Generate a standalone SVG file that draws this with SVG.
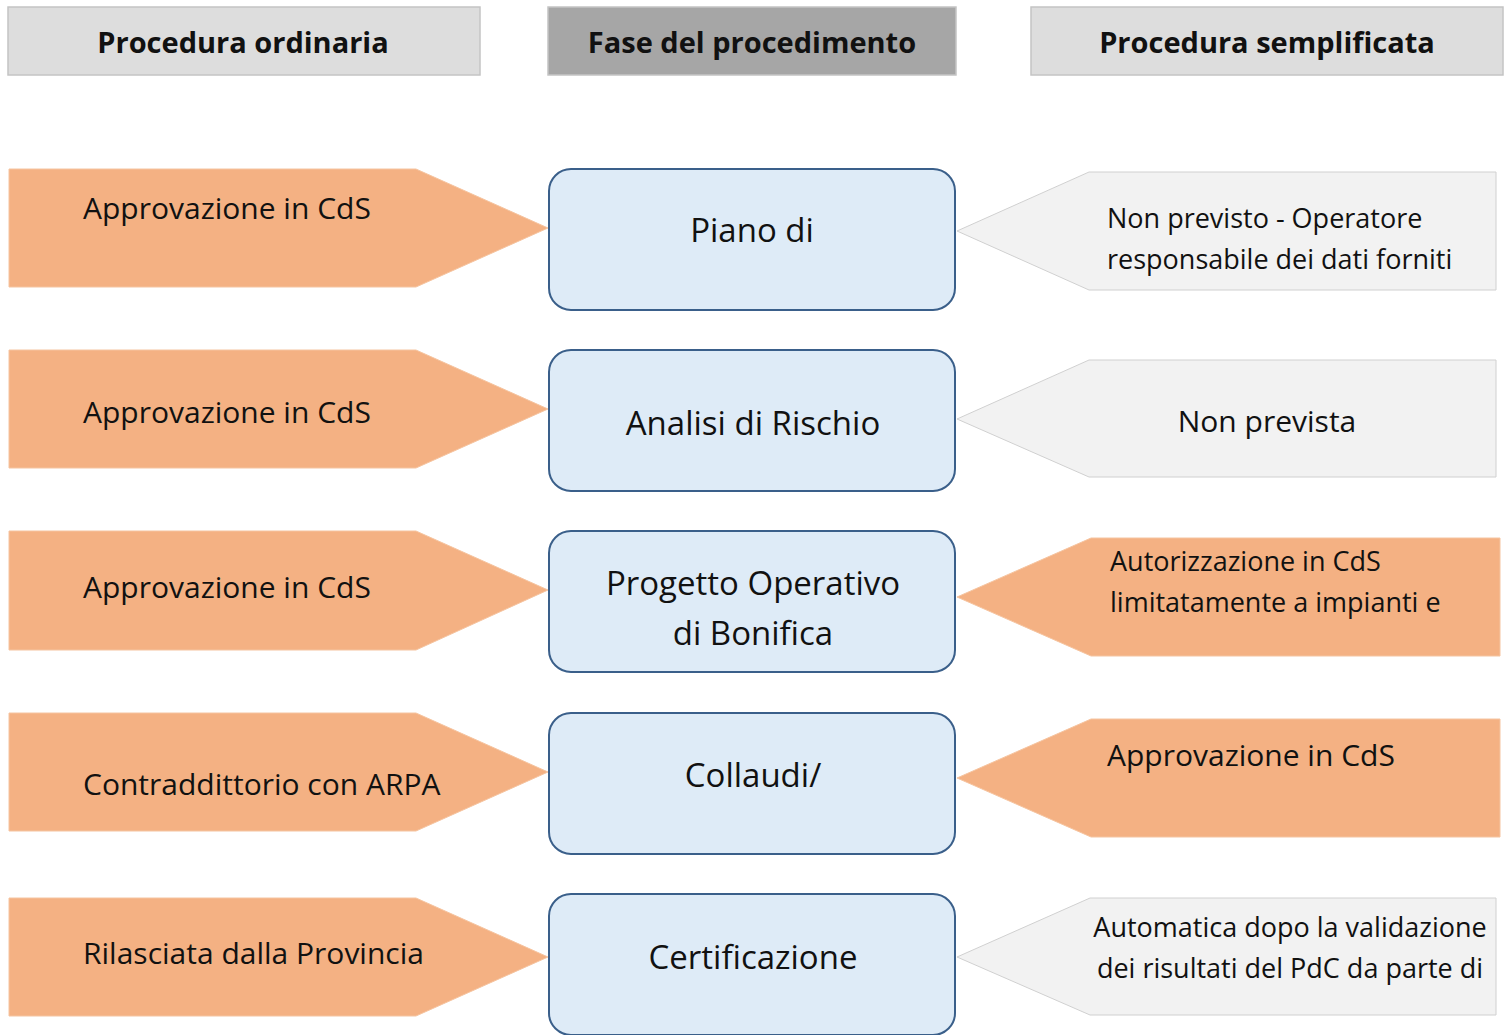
<svg xmlns="http://www.w3.org/2000/svg" width="1506" height="1035" viewBox="0 0 1506 1035">
<style>
.hdr{fill:#dddddd;stroke:#c4c4c4;stroke-width:1.5}
.hdr2{fill:#a6a6a6;stroke:#c4c4c4;stroke-width:1.5}
.ht{font-family:"Open Sans","Noto Sans",sans-serif;font-weight:bold;font-size:29px;fill:#111;text-anchor:middle}
.org{fill:#f4b183;stroke:#f5c4a0;stroke-width:1}
.gry{fill:#f2f2f2;stroke:#d0d0d0;stroke-width:1}
.box{fill:#deebf7;stroke:#3a5f8a;stroke-width:2}
.t{font-family:"Open Sans","Noto Sans",sans-serif;font-size:30px;fill:#111}
.tc{font-family:"Open Sans","Noto Sans",sans-serif;font-size:33px;fill:#111;text-anchor:middle}
.tr{font-family:"Open Sans","Noto Sans",sans-serif;font-size:27px;fill:#111}
.trc{font-family:"Open Sans","Noto Sans",sans-serif;font-size:27px;fill:#111;text-anchor:middle}
</style>
<rect width="1506" height="1035" fill="#ffffff"/>
<g id="headers">
<g id="h1"><rect class="hdr" x="8" y="7" width="472" height="68"/><text class="ht" x="243" y="53">Procedura ordinaria</text></g>
<g id="h2"><rect class="hdr2" x="548" y="7" width="408" height="68"/><text class="ht" x="752" y="53">Fase del procedimento</text></g>
<g id="h3"><rect class="hdr" x="1031" y="7" width="472" height="68"/><text class="ht" x="1267" y="53">Procedura semplificata</text></g>
</g>
<g id="connectors">
<polygon class="org" points="9,169 416,169 548,228 416,287 9,287"/>
<polygon class="org" points="9,350 416,350 548,409 416,468 9,468"/>
<polygon class="org" points="9,531 416,531 548,590 416,650 9,650"/>
<polygon class="org" points="9,713 416,713 548,772 416,831 9,831"/>
<polygon class="org" points="9,898 416,898 548,957 416,1016 9,1016"/>
<polygon class="gry" points="1496,172 1089,172 957,231 1089,290 1496,290"/>
<polygon class="gry" points="1496,360 1089,360 957,419 1089,477 1496,477"/>
<polygon class="org" points="1500,538 1091,538 957,597 1091,656 1500,656"/>
<polygon class="org" points="1500,719 1091,719 957,778 1091,837 1500,837"/>
<polygon class="gry" points="1496,898 1090,898 957,957 1090,1015 1496,1015"/>
</g>
<g id="left-labels">
<text class="t" x="83" y="219">Approvazione in CdS</text>
<text class="t" x="83" y="423">Approvazione in CdS</text>
<text class="t" x="83" y="598">Approvazione in CdS</text>
<text class="t" x="83" y="795">Contraddittorio con ARPA</text>
<text class="t" x="83" y="964">Rilasciata dalla Provincia</text>
</g>
<g id="n1"><rect class="box" x="549" y="169" width="406" height="141" rx="22"/><text class="tc" x="752" y="242">Piano di</text></g>
<g id="n2"><rect class="box" x="549" y="350" width="406" height="141" rx="22"/><text class="tc" x="753" y="435">Analisi di Rischio</text></g>
<g id="n3"><rect class="box" x="549" y="531" width="406" height="141" rx="22"/><text class="tc" x="753" y="595">Progetto Operativo</text><text class="tc" x="753" y="645">di Bonifica</text></g>
<g id="n4"><rect class="box" x="549" y="713" width="406" height="141" rx="22"/><text class="tc" x="753" y="787">Collaudi/</text></g>
<g id="n5"><rect class="box" x="549" y="894" width="406" height="141" rx="22"/><text class="tc" x="753" y="969">Certificazione</text></g>
<g id="right-labels">
<text class="tr" x="1107" y="228">Non previsto - Operatore</text>
<text class="tr" x="1107" y="269">responsabile dei dati forniti</text>
<text class="trc" x="1267" y="432" style="font-size:30px">Non prevista</text>
<text class="tr" x="1110" y="571">Autorizzazione in CdS</text>
<text class="tr" x="1110" y="612">limitatamente a impianti e</text>
<text class="tr" x="1107" y="766" style="font-size:30px">Approvazione in CdS</text>
<text class="trc" x="1290" y="937">Automatica dopo la validazione</text>
<text class="trc" x="1290" y="978">dei risultati del PdC da parte di</text>
</g>
</svg>
